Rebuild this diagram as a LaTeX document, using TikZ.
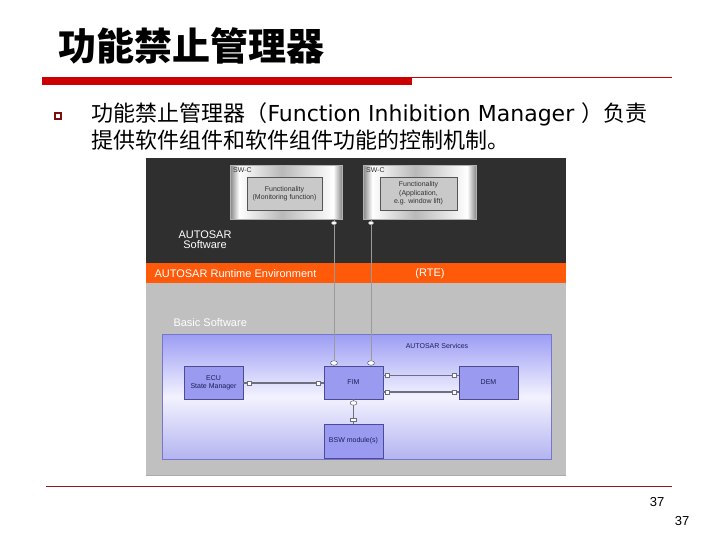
\documentclass[tikz,border=0pt]{standalone}
\usepackage{fontspec}
\setmainfont{Liberation Sans}
\newfontfamily\cjk{Noto Sans CJK SC}
\newfontfamily\verdana{DejaVu Sans}
\usetikzlibrary{positioning, shapes.geometric}

\definecolor{titlered}{HTML}{CC0000}
\definecolor{bulletred}{HTML}{7A1010}
\definecolor{footred}{HTML}{8B1A1A}
\definecolor{darkbg}{HTML}{2F2F2F}
\definecolor{rteorange}{HTML}{FF5A0A}
\definecolor{bswgrey}{HTML}{C0C0C0}
\definecolor{servtop}{HTML}{9C9CF4}
\definecolor{servmid}{HTML}{F2F2FF}
\definecolor{servbot}{HTML}{B4B4F0}
\definecolor{servdraw}{HTML}{7676CC}
\definecolor{modfill}{HTML}{9A9AF0}
\definecolor{moddraw}{HTML}{4B4B96}
\definecolor{modtext}{HTML}{1E1E5A}
\definecolor{funfill}{HTML}{C9C9C9}
\definecolor{fundraw}{HTML}{555555}
\definecolor{linkgrey}{HTML}{6E6E80}
\definecolor{rtegrey}{HTML}{9A9A9A}

\pgfdeclarehorizontalshading{swcshade}{100bp}{color(0bp)=(gray!95);
  color(25bp)=(gray!95); color(29bp)=(white); color(48bp)=(gray!55);
  color(71bp)=(white); color(75bp)=(gray!95); color(100bp)=(gray!95)}

\begin{document}
\begin{tikzpicture}[x=1pt, y=-1pt, node distance=10pt, on grid,
  swc/.style={shading=swcshade, draw=gray!60, anchor=north west, minimum height=54pt},
  fun/.style={draw=fundraw, fill=funfill, text=black!80, align=center,
    minimum width=76pt, minimum height=33pt, inner sep=0pt,
    font=\fontsize{7}{8.5}\selectfont},
  module/.style={draw=moddraw, fill=modfill, text=modtext, align=center,
    minimum width=59pt, minimum height=33pt, inner sep=0pt,
    font=\fontsize{7}{8}\selectfont},
  port/.style={draw=linkgrey, fill=white, inner sep=0pt,
    minimum width=3.5pt, minimum height=4.5pt},
  oval/.style={ellipse, draw=black!70, fill=white, inner sep=0pt,
    minimum width=7pt, minimum height=4.5pt},
  tinyoval/.style={ellipse, draw=gray!50, fill=white, inner sep=0pt,
    minimum width=5pt, minimum height=3pt},
  link/.style={draw=linkgrey, line width=1.1pt},
  rtelink/.style={draw=rtegrey, line width=1pt},
  whitetext/.style={text=white, font=\fontsize{11}{12}\selectfont}]
  \useasboundingbox (0,0) rectangle (720,540);

  % title and rule
  \node[anchor=base west, font=\cjk\bfseries\fontsize{38}{40}\selectfont] (title) at (55,61) {功能禁止管理器};
  \fill[titlered] (42,77) rectangle (412,85);
  \draw[titlered, line width=0.8pt] (412,77.5) -- (672,77.5);

  % bullet text
  \node[draw=bulletred, line width=1.1pt, fill=white, minimum size=6pt, inner sep=0pt] (bullet) at (58,116) {};
  \node[anchor=base west, font=\cjk\fontsize{22}{27}\selectfont] (intro1) at (88,122)
    {功能禁止管理器（{\verdana Function Inhibition Manager }）负责};
  \node[anchor=base west, font=\cjk\fontsize{22}{27}\selectfont] (intro2) at (88,149)
    {提供软件组件和软件组件功能的控制机制。};

  % layers
  \fill[darkbg] (146,158) rectangle (566,263);
  \fill[rteorange] (146,263) rectangle (566,283);
  \fill[bswgrey] (146,283) rectangle (566,476);
  \draw[gray!65, line width=1pt] (146,475.5) -- (566,475.5);
  \shade[top color=servtop, bottom color=servbot, middle color=servmid]
    (162,334) rectangle (551,459);
  \draw[servdraw] (162,334) rectangle (551,459);

  \node[whitetext, align=center] (autosar) at (205,240) {AUTOSAR\\[-2pt]Software};
  \node[whitetext, anchor=west] (rte) at (151,273.5) {AUTOSAR Runtime Environment};
  \node[whitetext] (rtetag) at (430,273.5) {(RTE)};
  \node[whitetext, anchor=west] (basic) at (170,323) {Basic Software};
  \node[text=modtext, font=\fontsize{7}{8}\selectfont] (services) at (437,346) {AUTOSAR Services};

  % software components
  \node[swc, minimum width=112pt] (swc1) at (230,165) {};
  \node[swc, minimum width=113pt] (swc2) at (363,165) {};
  \node[anchor=north west, text=black!80, font=\fontsize{7}{8}\selectfont, inner sep=1pt] (swc1lbl) at (232,166) {SW-C};
  \node[anchor=north west, text=black!80, font=\fontsize{7}{8}\selectfont, inner sep=1pt] (swc2lbl) at (365,166) {SW-C};
  \node[fun, minimum width=75pt] (fun1) at (284.5,193.5) {Functionality\\(Monitoring function)};
  \node[fun, minimum width=77pt] (fun2) at (418.5,193.5) {Functionality\\(Application,\\e.g. window lift)};

  % basic software modules
  \node[module] (fim) at (353.5,382.5) {FIM};
  \node[module] (ecu) [left=140pt of fim] {ECU\\State Manager};
  \node[module] (dem) [right=135pt of fim] {DEM};
  \node[module, minimum height=34pt] (bsw) [below=58.5pt of fim] {BSW module(s)};

  % ports through the RTE
  \node[tinyoval] (t1) at (334,223) {};
  \node[tinyoval] (t2) at (371,223) {};
  \node[oval] (b1) at (334,363) {};
  \node[oval] (b2) at (371,363) {};
  \draw[rtelink] (t1 |- swc1.south) -- (t1) -- (b1);
  \draw[rtelink] (t2 |- swc2.south) -- (t2) -- (b2);

  % ports between modules
  \node[port] (e1) at (249,383) {};
  \node[port] (e2) at (318,383) {};
  \node[port] (d1) at (387,375) {};
  \node[port] (d2) at (454,375) {};
  \node[port] (d3) at (387,392) {};
  \node[port] (d4) at (454,392) {};
  \node[oval] (f1) at (353.5,403) {};
  \node[port, minimum width=6pt, minimum height=3pt] (f2) at (353.5,420) {};

  \draw[link] (ecu.east |- e1) -- (e1) -- (e2) -- (fim.west |- e2);
  \draw[link, line width=0.9pt] (fim.east |- d1) -- (d1) -- (d2) -- (dem.west |- d2);
  \draw[link, line width=1.5pt] (fim.east |- d3) -- (d3) -- (d4) -- (dem.west |- d4);
  \draw[link] (fim.south) -- (f1) -- (f2) -- (bsw.north);

  % footer
  \draw[footred, line width=0.8pt] (46,486) -- (672,486);
  \node[font=\fontsize{13}{13}\selectfont] (page1) at (657,502) {37};
  \node[font=\fontsize{13}{13}\selectfont] (page2) at (682,521) {37};
\end{tikzpicture}
\end{document}
